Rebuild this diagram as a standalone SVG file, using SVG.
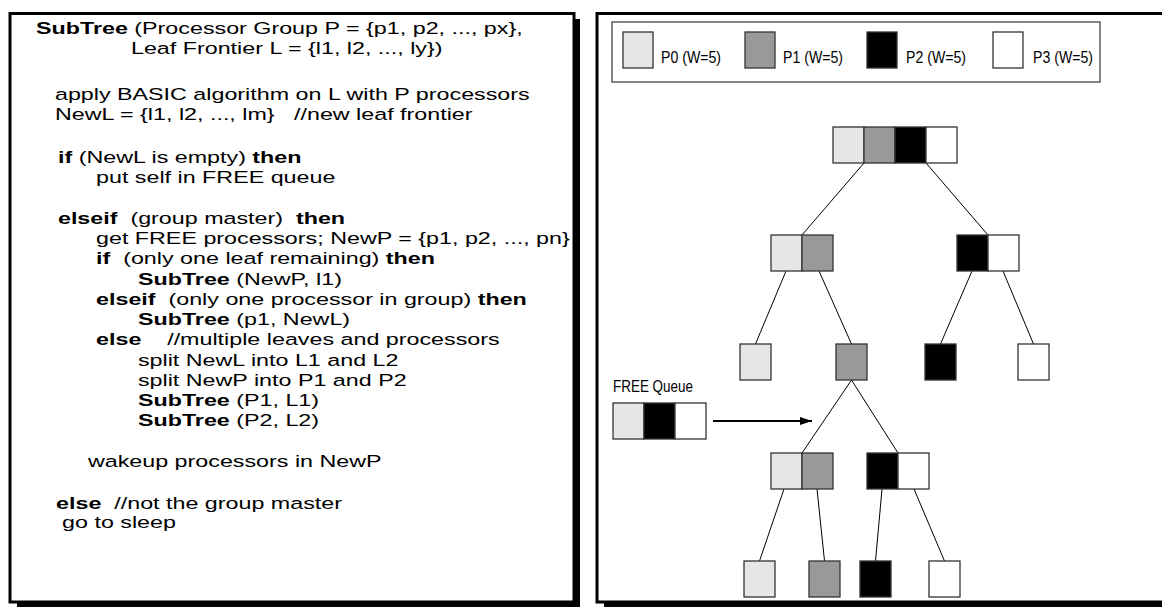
<svg xmlns="http://www.w3.org/2000/svg" width="1162" height="609" viewBox="0 0 1162 609">
<style>
text{white-space:pre}
.pt{font-family:"Liberation Sans",Arial,sans-serif;font-size:17px;fill:#000}
.b{font-weight:bold}
.lt{font-family:"Liberation Sans",Arial,sans-serif;font-size:16.5px;fill:#000}
.cell{stroke:#333;stroke-width:1.3}
.c0{fill:#e6e6e6}.c1{fill:#999999}.c2{fill:#000000}.c3{fill:#ffffff}
.edge{stroke:#000;stroke-width:1;fill:none}
.arrow{stroke:#000;stroke-width:2;fill:none}
</style>
<defs>
<marker id="ah" viewBox="0 0 12 8" refX="12" refY="4" markerWidth="12" markerHeight="8" markerUnits="userSpaceOnUse" orient="auto">
<path d="M0,0 L12,4 L0,8 Z" fill="#000"/>
</marker>
</defs>
<rect width="1162" height="609" fill="#fff"/>
<g id="left-panel">
<rect x="10" y="13.5" width="564" height="588.5" fill="#fff" stroke="#000" stroke-width="3"/>
<rect x="575" y="19" width="5" height="588" fill="#000"/>
<rect x="17" y="603" width="563" height="4" fill="#000"/>
<g transform="scale(1.37,1)">
<text class="pt" x="26.3" y="34"><tspan class="b">SubTree</tspan> (Processor Group P = {p1, p2, ..., px},</text>
<text class="pt" x="95.6" y="54">Leaf Frontier L = {l1, l2, ..., ly})</text>
<text class="pt" x="40.1" y="100">apply BASIC algorithm on L with P processors</text>
<text class="pt" x="40.1" y="120">NewL = {l1, l2, ..., lm}   //new leaf frontier</text>
<text class="pt" x="42.3" y="163"><tspan class="b">if</tspan> (NewL is empty) <tspan class="b">then</tspan></text>
<text class="pt" x="70.1" y="183">put self in FREE queue</text>
<text class="pt" x="42.3" y="224"><tspan class="b">elseif</tspan>  (group master)  <tspan class="b">then</tspan></text>
<text class="pt" x="70.1" y="244">get FREE processors; NewP = {p1, p2, ..., pn}</text>
<text class="pt" x="70.1" y="264"><tspan class="b">if</tspan>  (only one leaf remaining) <tspan class="b">then</tspan></text>
<text class="pt" x="100.7" y="285"><tspan class="b">SubTree</tspan> (NewP, l1)</text>
<text class="pt" x="70.1" y="305"><tspan class="b">elseif</tspan>  (only one processor in group) <tspan class="b">then</tspan></text>
<text class="pt" x="100.7" y="325"><tspan class="b">SubTree</tspan> (p1, NewL)</text>
<text class="pt" x="70.1" y="345"><tspan class="b">else</tspan>    //multiple leaves and processors</text>
<text class="pt" x="100.7" y="366">split NewL into L1 and L2</text>
<text class="pt" x="100.7" y="386">split NewP into P1 and P2</text>
<text class="pt" x="100.7" y="406"><tspan class="b">SubTree</tspan> (P1, L1)</text>
<text class="pt" x="100.7" y="426"><tspan class="b">SubTree</tspan> (P2, L2)</text>
<text class="pt" x="64.2" y="467">wakeup processors in NewP</text>
<text class="pt" x="40.9" y="509"><tspan class="b">else</tspan>  //not the group master</text>
<text class="pt" x="45.3" y="528">go to sleep</text>
</g>
</g>
<g id="right-panel">
<rect x="597" y="13.5" width="600" height="588.5" fill="#fff" stroke="#000" stroke-width="3"/>
<rect x="604" y="603" width="558" height="4" fill="#000"/>
</g>
<g id="legend">
<rect x="612" y="22" width="488" height="60" fill="#fff" stroke="#333" stroke-width="1.2"/>
<rect class="cell c0" x="623" y="32" width="30" height="36"/>
<text class="lt" x="661" y="63" textLength="60" lengthAdjust="spacingAndGlyphs">P0 (W=5)</text>
<rect class="cell c1" x="745" y="32" width="30" height="36"/>
<text class="lt" x="783" y="63" textLength="60" lengthAdjust="spacingAndGlyphs">P1 (W=5)</text>
<rect class="cell c2" x="867" y="32" width="30" height="36"/>
<text class="lt" x="906" y="63" textLength="60" lengthAdjust="spacingAndGlyphs">P2 (W=5)</text>
<rect class="cell c3" x="993" y="32" width="30" height="36"/>
<text class="lt" x="1033" y="63" textLength="60" lengthAdjust="spacingAndGlyphs">P3 (W=5)</text>
</g>
<g id="connectors">
<path class="edge" d="M864,163 L802,235"/>
<path class="edge" d="M926,163 L988,235"/>
<path class="edge" d="M786,271 L755.5,344"/>
<path class="edge" d="M819,271 L851.5,344"/>
<path class="edge" d="M972,271 L940.5,344"/>
<path class="edge" d="M1003,271 L1033.5,344"/>
<path class="edge" d="M851.5,380 L802,453"/>
<path class="edge" d="M851.5,380 L898,453"/>
<path class="edge" d="M784,489 L759.5,561"/>
<path class="edge" d="M817,489 L824.5,561"/>
<path class="edge" d="M882,489 L875.5,561"/>
<path class="edge" d="M914,489 L944.5,561"/>
<path class="arrow" d="M713,421 L812,421" marker-end="url(#ah)"/>
</g>
<g id="n_root">
<rect class="cell c0" x="833" y="127" width="31" height="36"/>
<rect class="cell c1" x="864" y="127" width="31" height="36"/>
<rect class="cell c2" x="895" y="127" width="31" height="36"/>
<rect class="cell c3" x="926" y="127" width="31" height="36"/>
</g>
<g id="n_l2a">
<rect class="cell c0" x="771" y="235" width="31" height="36"/>
<rect class="cell c1" x="802" y="235" width="31" height="36"/>
</g>
<g id="n_l2b">
<rect class="cell c2" x="957" y="235" width="31" height="36"/>
<rect class="cell c3" x="988" y="235" width="31" height="36"/>
</g>
<g id="n_l3a"><rect class="cell c0" x="740" y="344" width="31" height="36"/></g>
<g id="n_l3b"><rect class="cell c1" x="836" y="344" width="31" height="36"/></g>
<g id="n_l3c"><rect class="cell c2" x="925" y="344" width="31" height="36"/></g>
<g id="n_l3d"><rect class="cell c3" x="1018" y="344" width="31" height="36"/></g>
<g id="n_l4a">
<rect class="cell c0" x="771" y="453" width="31" height="36"/>
<rect class="cell c1" x="802" y="453" width="31" height="36"/>
</g>
<g id="n_l4b">
<rect class="cell c2" x="867" y="453" width="31" height="36"/>
<rect class="cell c3" x="898" y="453" width="31" height="36"/>
</g>
<g id="n_l5a"><rect class="cell c0" x="744" y="561" width="31" height="36"/></g>
<g id="n_l5b"><rect class="cell c1" x="809" y="561" width="31" height="36"/></g>
<g id="n_l5c"><rect class="cell c2" x="860" y="561" width="31" height="36"/></g>
<g id="n_l5d"><rect class="cell c3" x="929" y="561" width="31" height="36"/></g>
<g id="n_queue">
<text class="lt" x="613" y="392" textLength="80" lengthAdjust="spacingAndGlyphs">FREE Queue</text>
<rect class="cell c0" x="613" y="403" width="31" height="36"/>
<rect class="cell c2" x="644" y="403" width="31" height="36"/>
<rect class="cell c3" x="675" y="403" width="31" height="36"/>
</g>
</svg>
